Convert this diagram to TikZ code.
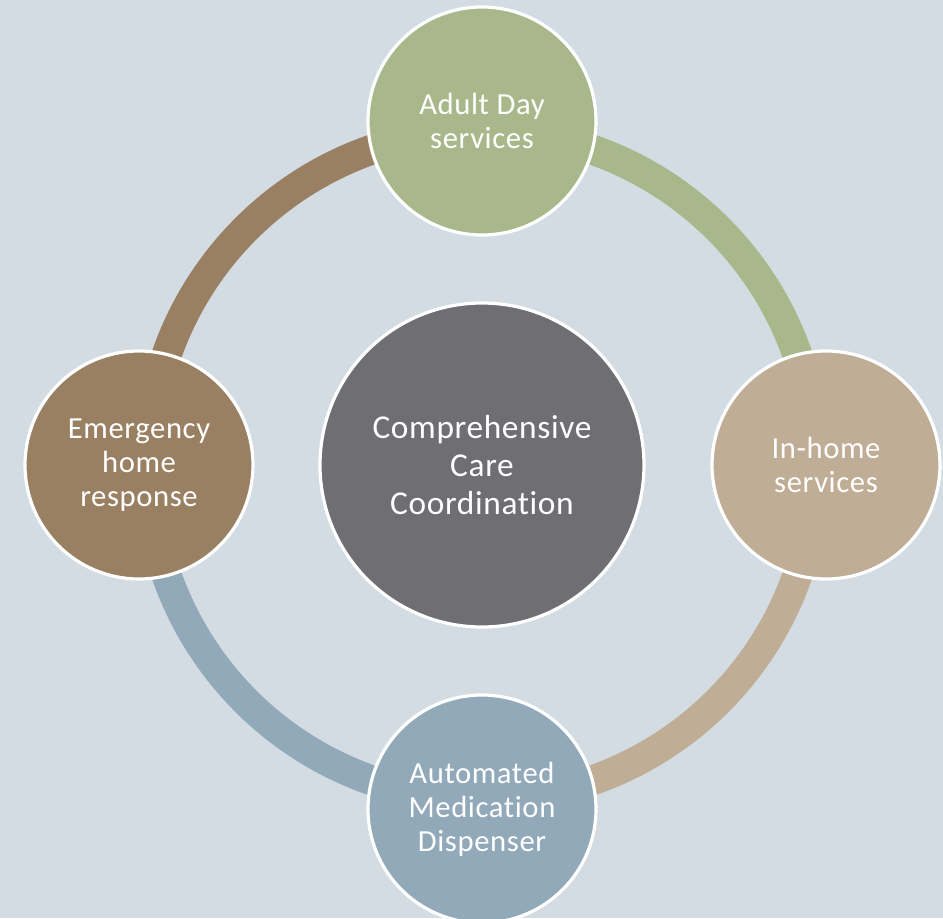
\documentclass[tikz,border=0pt]{standalone}
\usepackage{fontspec}
\setmainfont[Ligatures=NoCommon,LetterSpace=2]{Carlito}
\definecolor{bgc}{HTML}{D3DCE3}
\definecolor{greenc}{HTML}{A8B88A}
\definecolor{tanc}{HTML}{BFAD96}
\definecolor{bluec}{HTML}{91A9B9}
\definecolor{brownc}{HTML}{9A8062}
\definecolor{centerc}{HTML}{6F6E73}
\begin{document}
\begin{tikzpicture}[x=0.75pt,y=0.75pt,
  ring/.style={line width=22.5pt},
  sat/.style={circle,draw=white,line width=2.4pt,minimum size=171pt,inner sep=0pt,
    text=white,align=center,font=\fontsize{23}{25.5}\selectfont},
  hub/.style={circle,draw=white,line width=2.4pt,minimum size=243pt,inner sep=0pt,
    fill=centerc,text=white,align=center,font=\fontsize{25}{28.5}\selectfont}]
\fill[bgc] (-482,-453) rectangle (461,465);
\useasboundingbox (-482,-453) rectangle (461,465);
\coordinate (c) at (0,0);
\coordinate (rt) at (90:334);
\coordinate (rr) at (0:334);
\coordinate (rb) at (270:334);
\coordinate (rl) at (180:334);
\draw[ring,greenc] (rr) arc[start angle=0,end angle=90,radius=250.5pt];
\draw[ring,brownc] (rt) arc[start angle=90,end angle=180,radius=250.5pt];
\draw[ring,bluec] (rl) arc[start angle=180,end angle=270,radius=250.5pt];
\draw[ring,tanc] (rb) arc[start angle=270,end angle=360,radius=250.5pt];
\node[hub] (hub) at (c) {Comprehensive\\Care\\Coordination};
\node[sat,fill=greenc] (top) at (0,344) {Adult Day\\services};
\node[sat,fill=tanc] (right) at (344,0) {In-home\\services};
\node[sat,fill=bluec] (bottom) at (0,-344) {Automated\\Medication\\Dispenser};
\node[sat,fill=brownc] (left) at (-343,0) {Emergency\\home\\response};
\end{tikzpicture}
\end{document}
